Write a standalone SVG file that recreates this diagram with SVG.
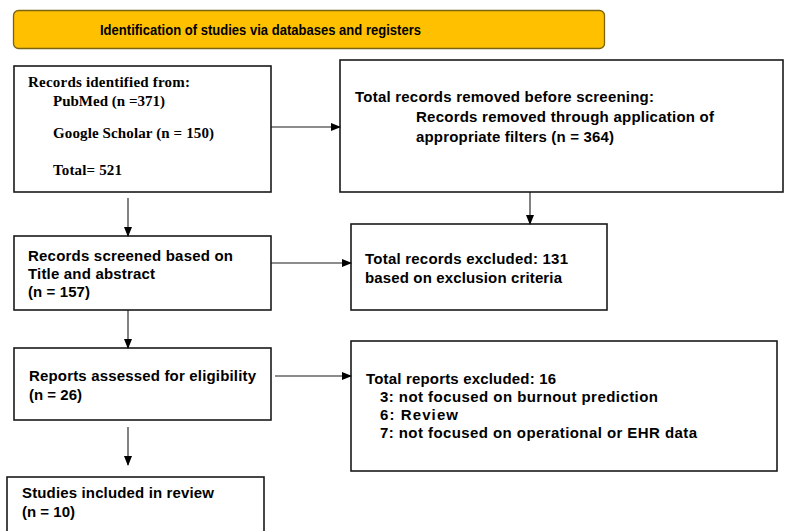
<svg xmlns="http://www.w3.org/2000/svg" width="785" height="531" viewBox="0 0 785 531">
<style>
.box{fill:#fff;stroke:#1a1a1a;stroke-width:1.6}
.t{font-family:"Liberation Sans",Arial,sans-serif;font-weight:bold;font-size:15px;fill:#000}
.s{font-family:"Liberation Serif","Times New Roman",serif;font-weight:bold;font-size:15px;fill:#000}
.c line{stroke:#1a1a1a;stroke-width:1.1}
</style>
<defs>
<marker id="ah" markerWidth="10" markerHeight="8" refX="9" refY="4" orient="auto" markerUnits="userSpaceOnUse">
<path d="M0,0 L10,4 L0,8 Z" fill="#000"/>
</marker>
</defs>
<rect width="785" height="531" fill="#fff"/>
<g id="title">
<rect x="13.5" y="10.5" width="591" height="38" rx="5" fill="#FFC000" stroke="#7a6410" stroke-width="1.3"/>
<text class="t" x="100" y="35" font-size="15" textLength="321" lengthAdjust="spacingAndGlyphs">Identification of studies via databases and registers</text>
</g>
<g id="identified">
<rect class="box" x="14" y="66" width="257" height="126"/>
<text class="s" x="28" y="87" textLength="162">Records identified from:</text>
<text class="s" x="53" y="106" textLength="112">PubMed (n =371)</text>
<text class="s" x="53" y="138" textLength="161">Google Scholar (n = 150)</text>
<text class="s" x="53" y="175" textLength="69">Total= 521</text>
</g>
<g id="removed">
<rect class="box" x="340" y="60" width="443" height="132"/>
<text class="t" x="355" y="102" textLength="299">Total records removed before screening:</text>
<text class="t" x="416" y="122" textLength="298">Records removed through application of</text>
<text class="t" x="416" y="142" textLength="198">appropriate filters (n = 364)</text>
</g>
<g id="screened">
<rect class="box" x="14" y="236" width="257" height="74"/>
<text class="t" x="28" y="261" textLength="205">Records screened based on</text>
<text class="t" x="28" y="279" textLength="127">Title and abstract</text>
<text class="t" x="28" y="297" textLength="62">(n = 157)</text>
</g>
<g id="excluded">
<rect class="box" x="351" y="224" width="256" height="86"/>
<text class="t" x="365" y="264" textLength="203">Total records excluded: 131</text>
<text class="t" x="365" y="283" textLength="197">based on exclusion criteria</text>
</g>
<g id="assessed">
<rect class="box" x="14" y="348" width="257" height="72"/>
<text class="t" x="29" y="381" textLength="227">Reports assessed for eligibility</text>
<text class="t" x="29" y="400" textLength="53">(n = 26)</text>
</g>
<g id="reportsExcluded">
<rect class="box" x="351" y="341" width="426" height="130"/>
<text class="t" x="366" y="384" textLength="190">Total reports excluded: 16</text>
<text class="t" x="380" y="402" textLength="278">3: not focused on burnout prediction</text>
<text class="t" x="380" y="420" textLength="78">6: Review</text>
<text class="t" x="380" y="438" textLength="317">7: not focused on operational or EHR data</text>
</g>
<g id="included">
<rect class="box" x="7" y="477" width="257" height="60"/>
<text class="t" x="22" y="498" textLength="192">Studies included in review</text>
<text class="t" x="22" y="517" textLength="53">(n = 10)</text>
</g>
<g class="c" id="connectors">
<line x1="271" y1="127" x2="340" y2="127" marker-end="url(#ah)"/>
<line x1="530" y1="192" x2="530" y2="224" marker-end="url(#ah)"/>
<line x1="128" y1="198" x2="128" y2="236" marker-end="url(#ah)"/>
<line x1="271" y1="263" x2="351" y2="263" marker-end="url(#ah)"/>
<line x1="128" y1="310" x2="128" y2="348" marker-end="url(#ah)"/>
<line x1="275" y1="376" x2="351" y2="376" marker-end="url(#ah)"/>
<line x1="128" y1="427" x2="128" y2="465" marker-end="url(#ah)"/>
</g>
</svg>
